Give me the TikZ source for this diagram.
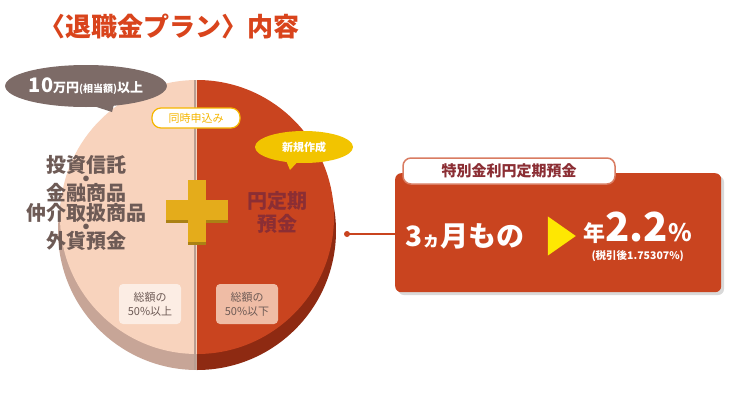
\documentclass[tikz,border=0pt]{standalone}
\usepackage{fontspec}
\setmainfont{Noto Sans CJK JP}
\newcommand\jpb{\bfseries}
\usetikzlibrary{shapes.geometric,shapes.callouts}
\definecolor{ored}{HTML}{C9441F}
\definecolor{dred}{HTML}{8E2A12}
\definecolor{peach}{HTML}{F8D3BD}
\definecolor{tan}{HTML}{C7A597}
\definecolor{gtxt}{HTML}{6E5B56}
\definecolor{maroon}{HTML}{8B2E34}
\definecolor{ttl}{HTML}{D9441C}
\definecolor{plusc}{HTML}{E4AC1B}
\definecolor{ybub}{HTML}{F2C400}
\tikzset{
 lefttxt/.style={text=gtxt,font=\jpb\fontsize{20}{22}\selectfont,align=center},
 pctbox/.style={rounded corners=4pt,minimum width=62pt,minimum height=40pt,font=\fontsize{11}{14}\selectfont,align=center,text=gtxt},
}
\begin{document}
\begin{tikzpicture}[x=1pt,y=-1pt]
\useasboundingbox (0,0) rectangle (740,402);
\fill[white] (0,0) rectangle (740,402);
% title
\node[text=ttl,font=\jpb\fontsize{26}{30}\selectfont,anchor=west] (title) at (36,27) {〈退職金プラン〉内容};
% pie edge
\begin{scope}
\clip (50,50) rectangle (197,400);
\fill[tan] (197,231) circle (139);
\end{scope}
\begin{scope}
\clip (197,50) rectangle (345,400);
\fill[dred] (197,231) circle (139);
\end{scope}
\begin{scope}
\clip (50,50) rectangle (197,400);
\fill[peach] (197,217) circle (137);
\end{scope}
\begin{scope}
\clip (197,50) rectangle (345,400);
\fill[ored] (197,217) circle (137);
\end{scope}
\draw[tan!80!gray,line width=2pt] (195,80) -- (195,370);
% gray bubble
\fill[gtxt!90] (75,100) -- (112,112) -- (118,88) -- cycle;
\node[ellipse,fill=gtxt!90,minimum width=150pt,minimum height=42pt,text=white,font=\jpb\fontsize{13}{15}\selectfont,inner sep=0pt] (gray) at (86,86) {{\fontsize{20}{20}\selectfont 10}万円\fontsize{10}{12}\selectfont(相当額)\fontsize{13}{15}\selectfont 以上};
% pill
\node[draw=ybub!80!orange,line width=1.2pt,fill=white,rounded corners=9pt,text=ybub!80!orange,font=\fontsize{11}{13}\selectfont,minimum width=88pt,minimum height=20pt] (pill) at (196,118) {同時申込み};
% yellow bubble
\fill[ybub] (285,158) -- (290,170) -- (302,157) -- cycle;
\node[ellipse,fill=ybub,minimum width=98pt,minimum height=32pt,text=white,font=\jpb\fontsize{11}{13}\selectfont,inner sep=0pt] (newb) at (304,147) {新規作成};
% left texts
\node[lefttxt] (lt) at (87,203) {投資信託\\[-8pt]・\\[-8pt]金融商品\\[-2pt]仲介取扱商品\\[-8pt]・\\[-8pt]外貨預金};
% plus
\fill[plusc!75!black] (188,183) rectangle (206,245);
\fill[plusc!75!black] (166,203) rectangle (228,223);
\fill[plusc] (188,180) rectangle (206,242);
\fill[plusc] (166,200) rectangle (228,220);
% yen deposit
\node[text=maroon,font=\jpb\fontsize{20}{23}\selectfont,align=center,draw=none] (yen) at (277,212) {円定期\\預金};
% percentage boxes
\node[pctbox,fill=white,fill opacity=0.6,text opacity=1] (p1) at (150,304) {総額の\\50\%以上};
\node[pctbox,fill=peach!85,fill opacity=0.8,text opacity=1] (p2) at (247,304) {総額の\\50\%以下};
% right box
\fill[gray!30,rounded corners=6pt] (398,176) rectangle (724,295);
\node[fill=ored,rounded corners=6pt,minimum width=326pt,minimum height=119pt,anchor=north west,inner sep=0pt] (rbox) at (395,173) {};
\node[draw=ored!70,line width=1.5pt,fill=white,rounded corners=8pt,text=maroon,font=\jpb\fontsize{15}{17}\selectfont,minimum width=212pt,minimum height=26pt] (tab) at (509,171) {特別金利円定期預金};
\node[text=white,font=\jpb\fontsize{28}{30}\selectfont,anchor=west] (m3) at (402,236) {3{\fontsize{18}{20}\selectfont ヵ}月もの};
\node[fill=yellow!90!orange,isosceles triangle,isosceles triangle apex angle=70,minimum height=28pt,inner sep=0pt] (tri) at (558,236) {};
\node[text=white,font=\jpb\fontsize{22}{26}\selectfont,anchor=west] (rate) at (580,228) {年{\fontsize{40}{40}\selectfont 2.2}{\fontsize{24}{24}\selectfont\%}};
\node[text=white,font=\jpb\fontsize{10.5}{12}\selectfont,anchor=west] (tax) at (588,256) {(税引後1.75307\%)};
% connector
\coordinate (dot) at (347,234);
\fill[ored] (dot) circle (3);
\draw[ored,line width=1.2pt] (dot) -- (rbox.west |- dot);
\end{tikzpicture}
\end{document}
